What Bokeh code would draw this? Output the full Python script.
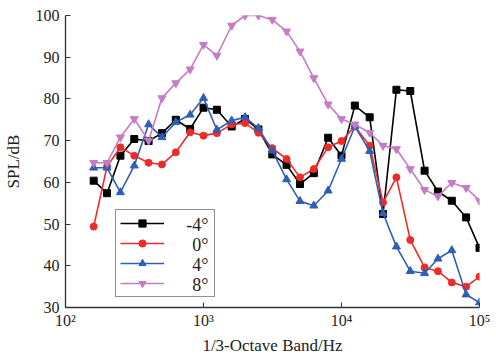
import math
from bokeh.plotting import figure
from bokeh.models import Range1d, Legend, LegendItem, CustomJSTickFormatter, FixedTicker, Label
from bokeh.embed import file_html
from bokeh.resources import INLINE

freq = [160, 200, 250, 315, 400, 500, 630, 800, 1000, 1250, 1600, 2000, 2500, 3150,
        4000, 5000, 6300, 8000, 10000, 12500, 16000, 20000, 25000, 31500, 40000,
        50000, 63000, 80000, 100000]

spl_m4 = [60.4, 57.4, 66.4, 70.4, 69.9, 71.8, 75.0, 72.8, 77.9, 77.4, 73.4, 75.2, 72.7, 66.7,
          64.2, 59.6, 62.2, 70.7, 66.4, 78.4, 75.6, 52.4, 82.2, 81.9, 62.8, 57.8, 55.6, 51.6, 44.3]
spl_0 = [49.4, 63.8, 68.4, 66.4, 64.7, 64.3, 67.2, 72.0, 71.2, 71.8, 73.9, 74.2, 71.9, 68.2,
         65.6, 61.2, 63.2, 68.4, 69.9, 73.4, 68.8, 55.2, 61.2, 46.2, 39.6, 38.7, 36.0, 35.0, 37.4]
spl_4 = [63.5, 63.5, 57.6, 64.0, 73.9, 70.8, 74.4, 76.2, 80.2, 72.6, 74.8, 75.6, 73.0, 67.6,
         60.7, 55.5, 54.4, 58.0, 65.6, 73.4, 67.5, 52.6, 44.6, 38.7, 38.2, 41.7, 43.7, 33.1, 31.2]
spl_8 = [64.7, 64.7, 70.8, 75.2, 70.0, 80.2, 83.8, 87.1, 93.0, 90.4, 97.6, 100.0, 100.0, 99.0,
         96.2, 91.4, 85.0, 78.7, 75.2, 73.9, 71.9, 68.8, 68.0, 63.2, 58.2, 56.7, 59.9, 58.7, 55.6]

labels = ["-4°", "0°", "4°", "8°"]
x_ticks = [100, 1000, 10000, 100000]
y_ticks = [30, 40, 50, 60, 70, 80, 90, 100]

FONT = "Liberation Serif"
X0, X1, Y0, Y1 = 100, 100000, 30, 100
FW, FH = 414, 292  # frame size in px

p = figure(width=496, height=357, x_axis_type="log", output_backend="svg",
           toolbar_location=None, x_range=Range1d(X0, X1), y_range=Range1d(Y0, Y1))
p.min_border_left = 65
p.min_border_right = 17
p.min_border_top = 15
p.min_border_bottom = 50
p.outline_line_color = None
p.xgrid.visible = False
p.ygrid.visible = False
p.background_fill_color = "white"
p.border_fill_color = "white"

series = [
    (spl_m4, "#000000", "square", 7),
    (spl_0, "#ee2b2b", "circle", 7),
    (spl_4, "#2f5fb5", "triangle", 8),
    (spl_8, "#c57cc4", "inverted_triangle", 8),
]

items = []
for (vals, col, mk, sz), lab in zip(series, labels):
    r1 = p.line(freq, vals, line_color=col, line_width=1.6)
    r2 = p.scatter(freq, vals, marker=mk, size=sz, fill_color=col, line_color=col)
    items.append(LegendItem(label=" ", renderers=[r1, r2]))

# legend box (glyphs); text drawn separately so the serif font applies
LEG_X, LEG_Y = 50, 10
PAD, GH, SP = 4, 18, 2
legend = Legend(items=items, location=(LEG_X, LEG_Y))
legend.label_text_font_size = "10px"
legend.border_line_color = "#222222"
legend.border_line_width = 1
legend.background_fill_alpha = 0
legend.glyph_width = 44
legend.glyph_height = GH
legend.label_height = GH
legend.label_width = 44
legend.label_standoff = 2
legend.spacing = SP
legend.padding = PAD
legend.margin = 0
p.add_layout(legend, "center")

n = len(labels)
leg_h = 2 * PAD + n * GH + (n - 1) * SP
top_px = LEG_Y + leg_h  # from frame bottom
label_right_px = 143  # from frame left
for i, lab in enumerate(labels):
    yc_px = top_px - PAD - GH / 2 - i * (GH + SP)
    y_data = Y0 + (Y1 - Y0) * yc_px / FH
    x_data = 10 ** (math.log10(X0) + (math.log10(X1) - math.log10(X0)) * label_right_px / FW)
    p.add_layout(Label(x=x_data, y=y_data, text=lab, text_font=FONT, text_font_size="18px",
                       text_color="#222222", text_align="right", text_baseline="middle",
                       level="overlay"))

for ax in (p.xaxis[0], p.yaxis[0]):
    ax.major_tick_in = 5
    ax.major_tick_out = 0
    ax.minor_tick_line_color = None
    ax.axis_line_color = "#333333"
    ax.axis_line_width = 1.3
    ax.major_tick_line_color = "#333333"
    ax.major_label_text_font = FONT
    ax.major_label_text_font_size = "16px"
    ax.major_label_text_color = "#222222"
    ax.axis_label_text_font = FONT
    ax.axis_label_text_font_size = "17px"
    ax.axis_label_text_font_style = "normal"
    ax.axis_label_text_color = "#222222"

p.xaxis[0].ticker = FixedTicker(ticks=x_ticks, minor_ticks=[])
p.xaxis[0].formatter = CustomJSTickFormatter(code="""
const sup = {'2':'\u00b2','3':'\u00b3','4':'\u2074','5':'\u2075'};
const e = Math.round(Math.log10(tick));
return '10' + sup[String(e)];
""")
p.xaxis[0].axis_label = "1/3-Octave Band/Hz"
p.xaxis[0].major_label_standoff = 4
p.xaxis[0].axis_label_standoff = 4

p.yaxis[0].ticker = FixedTicker(ticks=y_ticks, minor_ticks=[])
p.yaxis[0].axis_label = "SPL/dB"
p.yaxis[0].major_label_standoff = 6
p.yaxis[0].axis_label_standoff = 10

open("out.html", "w").write(file_html(p, INLINE))
